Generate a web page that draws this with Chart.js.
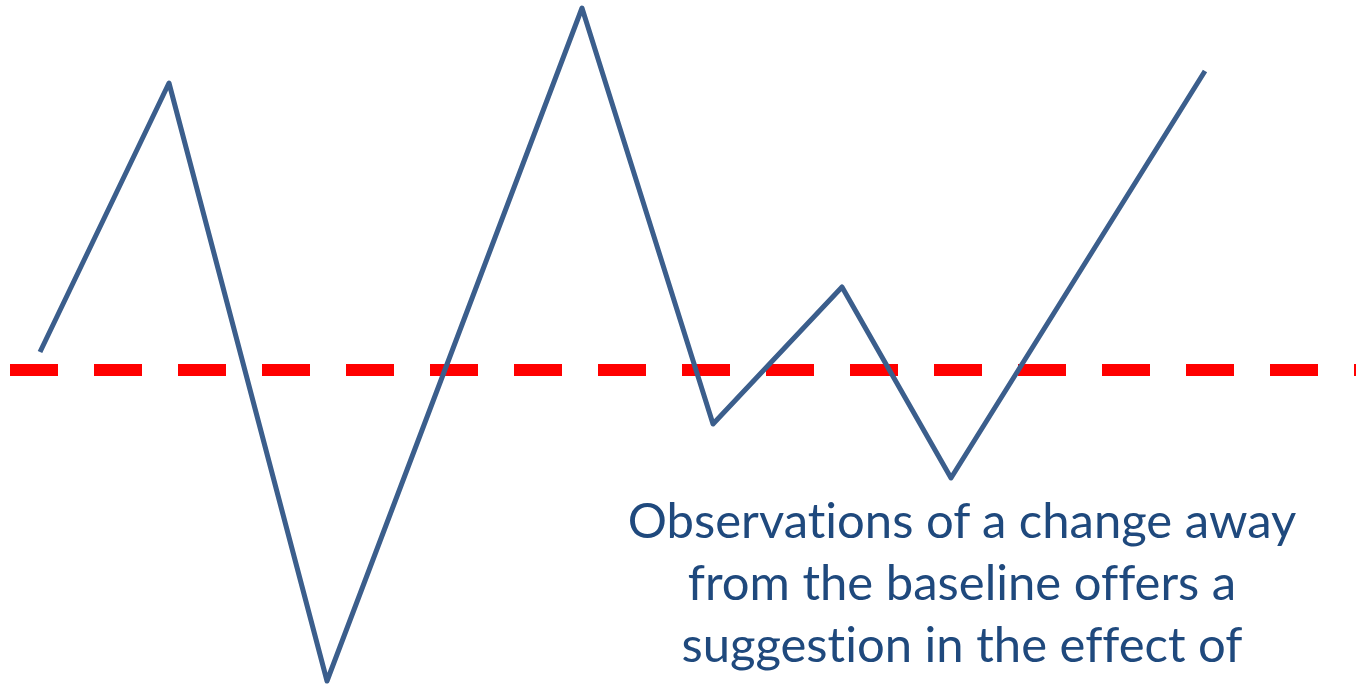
<!DOCTYPE html>
<html>
<head>
<meta charset="utf-8">
<script src="https://cdn.jsdelivr.net/npm/chart.js@4"></script>
<style>
  html, body { margin: 0; padding: 0; background: #fff; overflow: hidden; }
  #wrap { position: relative; width: 1367px; height: 686px; }
  #note {
    position: absolute; left: 562px; top: 488px; width: 800px;
    text-align: center; font-family: Lato, sans-serif; font-size: 49px;
    line-height: 62px; color: #1F497D; white-space: nowrap;
    font-variant-ligatures: none;
  }
</style>
</head>
<body>
<div id="wrap">
  <canvas id="myChart" width="1367" height="686"></canvas>
  <div id="note">Observations of a change away<br>from the baseline offers a<br>suggestion in the effect of</div>
</div>
<script>
// observation times and their deviation from the baseline
const times = [40, 169, 327, 582, 713, 842, 951, 1205];
const deviation = [18, 287, -311, 362, -54, 83, -108, 299];
const baseline = 0;
const baselineSpan = [10, 1356];

const ctx = document.getElementById('myChart').getContext('2d');
new Chart(ctx, {
  type: 'scatter',
  data: {
    datasets: [
      {
        data: baselineSpan.map(t => ({ x: t, y: baseline })),
        showLine: true,
        borderColor: '#FF0000',
        borderWidth: 12,
        borderDash: [48, 36],
        borderCapStyle: 'butt',
        pointRadius: 0,
        clip: false,
        order: 2
      },
      {
        data: times.map((t, i) => ({ x: t, y: deviation[i] })),
        showLine: true,
        borderColor: '#3B5E8C',
        borderWidth: 5,
        borderCapStyle: 'butt',
        borderJoinStyle: 'round',
        pointRadius: 0,
        clip: false,
        order: 1
      }
    ]
  },
  options: {
    responsive: false,
    animation: false,
    layout: { padding: 0, autoPadding: false },
    plugins: { legend: { display: false }, tooltip: { enabled: false } },
    scales: {
      x: { type: 'linear', min: 0, max: 1367, display: false },
      y: { type: 'linear', min: -316, max: 370, display: false }
    }
  }
});
</script>
</body>
</html>
